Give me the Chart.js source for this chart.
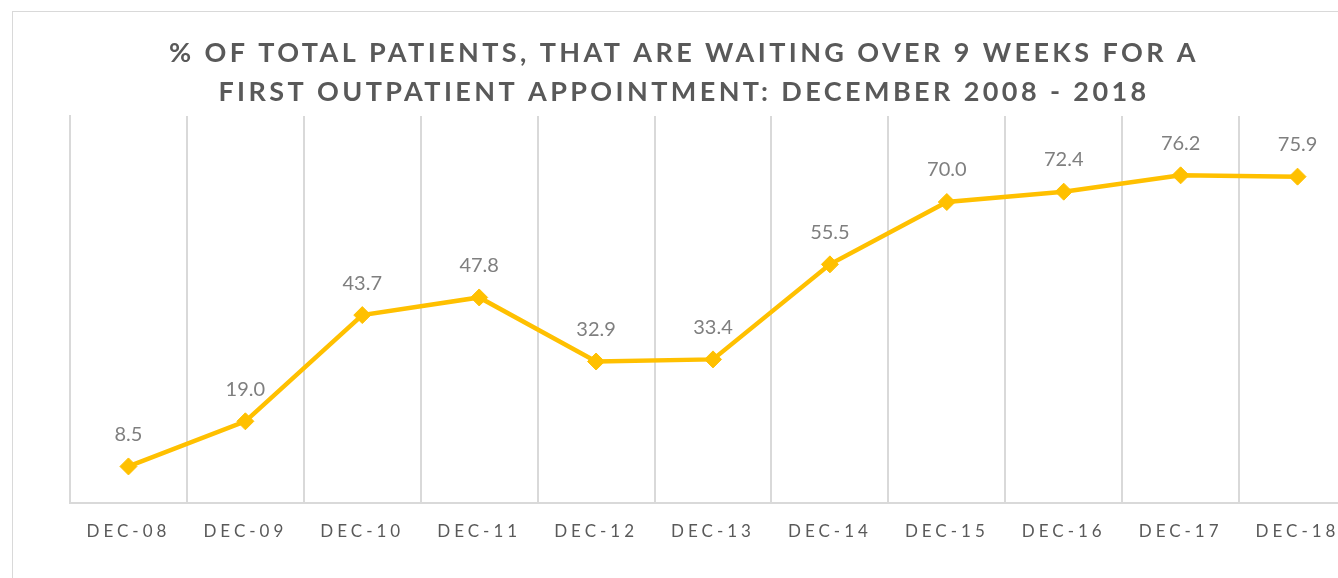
<!DOCTYPE html>
<html>
<head>
<meta charset="utf-8">
<script src="https://cdn.jsdelivr.net/npm/chart.js@4.4.1/dist/chart.umd.min.js"></script>
<style>
  html, body { margin: 0; padding: 0; background: #fff; overflow: hidden; width: 1338px; height: 578px; }
  #frame { position: absolute; left: 12px; top: 11px; width: 1400px; height: 700px; border: 1px solid #d9d9d9; }
  #myChart { position: absolute; left: 0; top: 0; }
</style>
</head>
<body>
<div id="frame"></div>
<canvas id="myChart" width="1400" height="578"></canvas>
<script>
// chart data
var categories = ['DEC-08', 'DEC-09', 'DEC-10', 'DEC-11', 'DEC-12', 'DEC-13', 'DEC-14', 'DEC-15', 'DEC-16', 'DEC-17', 'DEC-18'];
var waitingPct = [8.5, 19.0, 43.7, 47.8, 32.9, 33.4, 55.5, 70.0, 72.4, 76.2, 75.9];
var titleLines = ['% OF TOTAL PATIENTS, THAT ARE WAITING OVER 9 WEEKS FOR A', 'FIRST OUTPATIENT APPOINTMENT: DECEMBER 2008 - 2018'];

var fontName = 'Lato, "Open Sans", sans-serif';

// title + spaced tick labels + value labels (no datalabels plugin available)
var textPlugin = {
  id: 'textPlugin',
  beforeDraw: function (chart) {
    chart.ctx.letterSpacing = '4px';
  },
  beforeDatasetsDraw: function (chart) {
    chart.ctx.letterSpacing = '0px';
  },
  afterDatasetsDraw: function (chart) {
    var ctx = chart.ctx;
    var meta = chart.getDatasetMeta(0);
    ctx.save();
    ctx.letterSpacing = '0px';
    ctx.font = '20px ' + fontName;
    ctx.fillStyle = '#7f7f7f';
    ctx.textAlign = 'center';
    ctx.textBaseline = 'middle';
    meta.data.forEach(function (pt, i) {
      ctx.fillText(waitingPct[i].toFixed(1), pt.x, pt.y - 32);
    });
    ctx.restore();
  },
  afterDraw: function (chart) {
    var ctx = chart.ctx;
    ctx.save();
    ctx.letterSpacing = '3.4px';
    ctx.font = 'bold 27px ' + fontName;
    ctx.fillStyle = '#595959';
    ctx.textAlign = 'center';
    ctx.textBaseline = 'middle';
    ctx.fillText(titleLines[0], 684, 53);
    ctx.fillText(titleLines[1], 684, 92);
    ctx.restore();
    ctx.letterSpacing = '0px';
  }
};

var ctx = document.getElementById('myChart').getContext('2d');

var myChart = new Chart(ctx, {
  type: 'line',
  data: {
    labels: categories,
    datasets: [{
      data: waitingPct,
      borderColor: '#FFC000',
      backgroundColor: '#FFC000',
      borderWidth: 4.5,
      pointStyle: 'rectRot',
      pointRadius: 8.5,
      pointHoverRadius: 8.5,
      pointBackgroundColor: '#FFC000',
      pointBorderColor: '#FFC000',
      pointBorderWidth: 1,
      tension: 0
    }]
  },
  options: {
    responsive: false,
    animation: false,
    layout: {
      padding: { left: 70, right: 44, top: 116, bottom: 0 }
    },
    plugins: {
      legend: { display: false },
      title: { display: false },
      tooltip: { enabled: false }
    },
    scales: {
      x: {
        offset: true,
        grid: { display: true, offset: true, color: '#d9d9d9', lineWidth: 2, drawTicks: false },
        border: { display: true, color: '#d9d9d9', width: 2 },
        ticks: {
          color: '#595959',
          font: { family: fontName, size: 17 },
          padding: 18,
          maxRotation: 0,
          autoSkip: false
        },
        afterFit: function (scale) { scale.height = 75; }
      },
      y: {
        min: 0,
        max: 90,
        grid: { display: false },
        border: { display: true, color: '#d9d9d9', width: 2 },
        ticks: { display: false },
        afterFit: function (scale) { scale.width = 0; }
      }
    }
  },
  plugins: [textPlugin]
});
</script>
</body>
</html>
